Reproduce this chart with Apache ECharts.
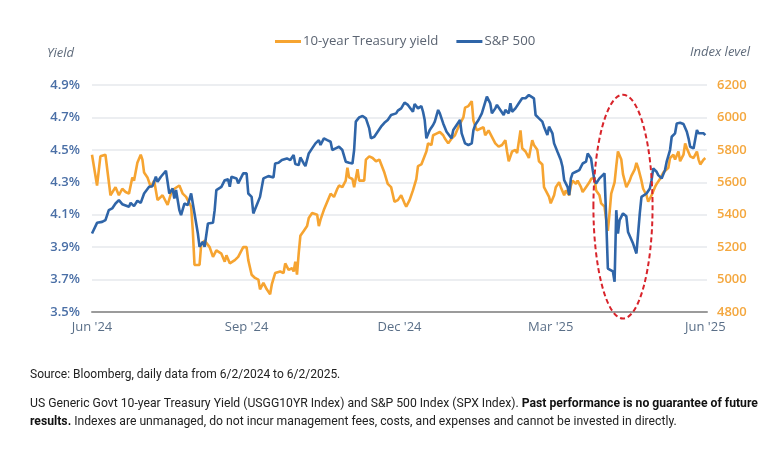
<!DOCTYPE html>
<html>
<head>
<meta charset="utf-8">
<script src="https://cdn.jsdelivr.net/npm/echarts@6/dist/echarts.min.js"></script>
<style>
  html, body { margin: 0; padding: 0; background: #fff; }
  #chart { width: 779px; height: 451px; }
</style>
</head>
<body>
<div id="chart"></div>
<script>
// x values are days counted from startDate
const startDate = '2024-06-01';
const endDate = '2025-06-02';

const yieldDays = [0,3,4,5,8,11,14,16,18,20,22,24,25,27,29,30,31,33,35,37,39,42,43,45,47,49,52,54,56,58,59,60,61,64,65,67,70,72,74,77,79,80,82,85,87,
  90,92,93,95,97,99,100,102,104,106,107,109,112,114,115,117,119,120,121,122,123,124,126,128,129,131,134,135,136,138,140,142,144,146,147,149,151,152,153,155,156,158,159,162,163,165,167,169,171,174,176,178,180,182,
  184,186,187,189,191,193,194,196,197,199,200,202,203,205,207,209,210,212,214,216,218,219,221,222,224,226,227,229,231,233,234,236,238,240,242,244,246,247,248,250,252,253,255,256,258,260,262,263,265,266,268,269,270,272,
  273,275,276,278,279,281,282,284,285,286,288,289,291,292,294,296,297,299,300,302,303,305,306,307,308,309,311,312,313,315,316,317,318,320,321,323,324,325,327,328,330,331,332,333,335,336,338,340,341,343,344,346,347,349,350,352,353,354,356,358,360,361,362,364,365];
const yieldVals = [4.47,4.28,4.29,4.46,4.47,4.22,4.27,4.22,4.26,4.24,4.23,4.33,4.31,4.42,4.47,4.44,4.36,4.33,4.27,4.31,4.19,4.22,4.23,4.16,4.23,4.26,4.28,4.23,4.21,4.17,4.15,4.00,3.79,3.79,3.92,3.94,3.90,3.84,3.88,3.86,3.81,3.85,3.80,3.82,3.84,
  3.90,3.90,3.82,3.73,3.71,3.70,3.64,3.68,3.64,3.61,3.67,3.74,3.75,3.74,3.80,3.76,3.77,3.75,3.81,3.73,3.86,3.97,4.00,4.03,4.08,4.11,4.10,4.03,4.07,4.13,4.18,4.23,4.21,4.26,4.28,4.27,4.31,4.39,4.33,4.32,4.27,4.38,4.31,4.31,4.44,4.46,4.45,4.43,4.44,4.36,4.29,4.27,4.18,4.19,
  4.22,4.17,4.15,4.19,4.25,4.32,4.40,4.41,4.42,4.49,4.54,4.53,4.59,4.60,4.61,4.59,4.57,4.54,4.57,4.59,4.64,4.66,4.70,4.76,4.77,4.80,4.68,4.62,4.63,4.64,4.59,4.62,4.58,4.54,4.52,4.53,4.56,4.49,4.43,4.49,4.50,4.48,4.62,4.51,4.49,4.45,4.56,4.53,4.50,4.43,4.41,4.27,4.25,4.21,
  4.17,4.22,4.27,4.30,4.27,4.22,4.25,4.22,4.28,4.31,4.29,4.31,4.27,4.24,4.27,4.30,4.32,4.33,4.25,4.22,4.17,4.15,4.07,4.00,4.11,4.23,4.30,4.40,4.49,4.44,4.35,4.31,4.27,4.31,4.34,4.38,4.42,4.39,4.31,4.26,4.22,4.18,4.17,4.22,4.27,4.29,4.32,4.36,4.35,4.39,4.45,4.47,4.44,4.49,4.43,4.47,4.54,4.51,4.46,4.45,4.49,4.44,4.41,4.44,4.45];

const spxDays = [0,1,3,6,8,10,12,14,16,18,22,23,25,27,29,31,34,36,38,39,41,42,44,46,48,49,50,52,53,55,57,58,59,61,63,64,66,67,69,72,73,74,77,79,81,82,83,86,87,
  90,92,93,95,96,98,100,102,105,108,109,111,113,116,118,120,121,123,124,126,127,129,131,133,135,136,138,140,142,143,145,147,149,151,153,155,156,157,159,161,163,165,166,168,170,172,174,176,178,179,181,
  182,184,186,188,189,191,192,194,196,197,198,199,201,203,204,206,207,209,211,212,214,215,217,219,220,222,224,226,227,228,230,232,233,235,237,238,240,241,243,245,246,248,249,250,252,254,256,258,260,261,263,264,266,268,269,271,
  272,274,275,276,277,279,280,281,282,283,284,285,286,288,290,291,292,294,295,297,298,299,300,302,303,305,306,307,310,311,312,313,314,316,317,318,319,320,322,324,325,326,327,328,330,332,333,334,336,337,339,341,342,344,345,347,348,350,352,354,355,356,357,358,360,361,362,364,365];
const spxVals = [5284,5288,5350,5356,5367,5428,5439,5469,5490,5465,5449,5473,5453,5486,5473,5531,5572,5576,5634,5603,5634,5644,5671,5531,5562,5500,5552,5428,5397,5469,5459,5449,5531,5408,5284,5202,5233,5202,5346,5350,5428,5552,5572,5613,5618,5572,5634,5624,5593,
  5655,5655,5531,5510,5408,5459,5510,5624,5638,5630,5716,5720,5737,5747,5737,5768,5712,5706,5753,5716,5700,5778,5809,5840,5860,5830,5871,5860,5850,5799,5809,5819,5799,5727,5720,5716,5799,5974,6000,6009,5994,5932,5871,5881,5912,5943,5967,5984,6015,6004,6025,
  6042,6056,6091,6077,6066,6035,6083,6056,6070,6035,5984,5871,5922,5953,5974,6046,6025,5963,5912,5902,5871,5922,5953,5984,5902,5840,5830,5840,5922,5953,5984,6025,6035,6128,6087,6025,6056,6077,6046,6015,6046,6025,6087,6035,6056,6087,6118,6118,6138,6149,6118,6015,5994,5974,5943,5891,
  5943,5902,5840,5850,5788,5737,5696,5613,5624,5572,5521,5624,5655,5665,5675,5665,5716,5727,5778,5747,5675,5613,5593,5624,5634,5655,5380,5068,5050,4986,5428,5284,5367,5408,5404,5390,5294,5284,5222,5161,5284,5408,5510,5521,5531,5562,5613,5685,5665,5644,5624,5675,5727,5799,5881,5902,5963,5967,5959,5912,5871,5819,5809,5809,5922,5902,5912,5902,5891];

const xTickDates = ['2024-06-01', '2024-09-01', '2024-12-01', '2025-03-01', '2025-06-01'];
const xTickLabels = ["Jun '24", "Sep '24", "Dec '24", "Mar '25", "Jun '25"];

// highlighted April sell-off (centre day, centre level, top level, half width in days)
const ringDay = 316, ringLevel = 5450, ringTopLevel = 6140, ringHalfDays = 17.6;

const dayMs = 86400000;
function dayOf(s) {
  const p = s.split('-').map(Number);
  const q = startDate.split('-').map(Number);
  return Math.round((Date.UTC(p[0], p[1] - 1, p[2]) - Date.UTC(q[0], q[1] - 1, q[2])) / dayMs);
}
const tickDays = xTickDates.map(dayOf);

const ORANGE = '#f6a431';
const BLUE = '#2f65a8';

var myChart = echarts.init(document.getElementById('chart'));
const option = {
  animation: false,
  grid: { left: 92, right: 72, top: 85, bottom: 139 },
  legend: {
    top: 30,
    left: 270,
    itemWidth: 26,
    itemHeight: 3,
    itemGap: 18,
    textStyle: { fontFamily: 'Open Sans', fontSize: 13.2, color: '#5b6472', padding: [0, 0, 0, -3] },
    data: [
      { name: '10-year Treasury yield', icon: 'rect' },
      { name: 'S&P 500', icon: 'rect' }
    ]
  },
  xAxis: {
    type: 'value',
    min: 0,
    max: dayOf(endDate),
    axisLine: { show: true, lineStyle: { color: '#9b9b9b', width: 2 } },
    axisTick: { show: false },
    splitLine: { show: false },
    axisLabel: {
      customValues: tickDays,
      margin: 9,
      fontFamily: 'Open Sans',
      fontSize: 13,
      color: '#5a6f88',
      formatter: function (v) {
        const i = tickDays.indexOf(v);
        return i >= 0 ? xTickLabels[i] : '';
      }
    }
  },
  yAxis: [
    {
      type: 'value',
      min: 3.5, max: 4.9, interval: 0.2,
      axisLine: { show: false },
      axisTick: { show: false },
      splitLine: { lineStyle: { color: '#e6e8ec', width: 1.5 } },
      axisLabel: {
        margin: 12,
        fontFamily: 'Open Sans', fontSize: 13, fontWeight: 600, color: '#4a6fa6',
        formatter: v => v.toFixed(1) + '%'
      }
    },
    {
      type: 'value',
      min: 4800, max: 6200, interval: 200,
      axisLine: { show: false },
      axisTick: { show: false },
      splitLine: { show: false },
      axisLabel: {
        margin: 10,
        fontFamily: 'Open Sans', fontSize: 13, fontWeight: 600, color: '#f4a73e',
        formatter: v => String(v)
      }
    }
  ],
  series: [
    {
      name: '10-year Treasury yield',
      type: 'line',
      yAxisIndex: 0,
      showSymbol: false,
      color: ORANGE,
      lineStyle: { width: 2.6, color: ORANGE },
      data: yieldDays.map((d, i) => [d, yieldVals[i]])
    },
    {
      name: 'S&P 500',
      type: 'line',
      yAxisIndex: 1,
      showSymbol: false,
      color: BLUE,
      lineStyle: { width: 2.6, color: BLUE },
      data: spxDays.map((d, i) => [d, spxVals[i]])
    }
  ]
};
myChart.setOption(option);

// annotation ellipse and texts
const ringC = myChart.convertToPixel({ xAxisIndex: 0, yAxisIndex: 1 }, [ringDay, ringLevel]);
const ringEdge = myChart.convertToPixel({ xAxisIndex: 0, yAxisIndex: 1 }, [ringDay + ringHalfDays, ringTopLevel]);
const ringRx = ringEdge[0] - ringC[0];
const ringRy = ringC[1] - ringEdge[1];

const noteFont = 'Roboto';
myChart.setOption({
  graphic: [
    {
      type: 'ellipse',
      shape: { cx: ringC[0], cy: ringC[1], rx: ringRx, ry: ringRy },
      style: { fill: 'none', stroke: '#d8232a', lineWidth: 2, lineDash: [5, 3] },
      z: 100
    },
    {
      type: 'text', left: 47, top: 47,
      style: { text: 'Yield', font: 'italic 13px "Open Sans"', fill: '#5f6b7b' }
    },
    {
      type: 'text', left: 690, top: 46,
      style: { text: 'Index level', font: 'italic 13px "Open Sans"', fill: '#5f6b7b' }
    },
    {
      type: 'text', left: 30, top: 369,
      style: { text: 'Source: Bloomberg, daily data from 6/2/2024 to 6/2/2025.', font: '12px ' + noteFont, fill: '#222' }
    },
    {
      type: 'text', left: 30, top: 398,
      style: {
        text: '{n|US Generic Govt 10-year Treasury Yield (USGG10YR Index) and S&P 500 Index (SPX Index). }{b|Past performance is no guarantee of future}\n{b|results.}{n| Indexes are unmanaged, do not incur management fees, costs, and expenses and cannot be invested in directly.}',
        rich: {
          n: { fontFamily: noteFont, fontSize: 12.2, fill: '#222', lineHeight: 18 },
          b: { fontFamily: noteFont, fontSize: 12.2, fontWeight: 'bold', fill: '#111', lineHeight: 18 }
        }
      }
    }
  ]
});
</script>
</body>
</html>
